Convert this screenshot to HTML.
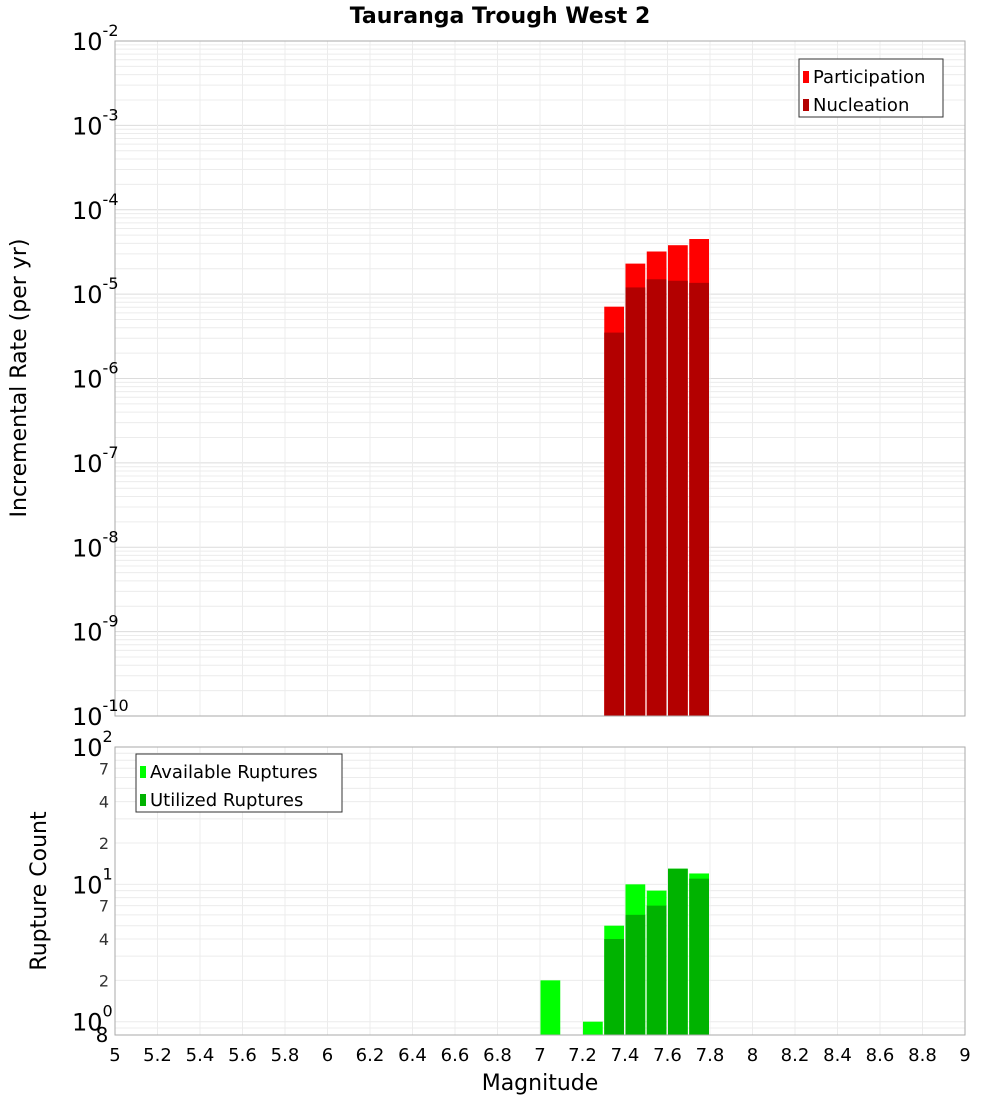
<!DOCTYPE html>
<html><head><meta charset="utf-8"><style>
body{margin:0;background:#fff;}
svg{display:block;font-family:"DejaVu Sans","Liberation Sans",sans-serif;}
</style></head><body>
<svg id="c" width="1000" height="1100"></svg>
<script>
const mags = [7.35, 7.45, 7.55, 7.65, 7.75];
const participation = [7.1e-6, 2.3e-5, 3.2e-5, 3.8e-5, 4.5e-5];
const nucleation = [3.5e-6, 1.2e-5, 1.5e-5, 1.44e-5, 1.36e-5];
const countMags = [7.05, 7.25, 7.35, 7.45, 7.55, 7.65, 7.75];
const available = [2, 1, 5, 10, 9, 13, 12];
const utilized = [0, 0, 4, 6, 7, 13, 11];
const xTicks = ["5","5.2","5.4","5.6","5.8","6","6.2","6.4","6.6","6.8","7","7.2","7.4","7.6","7.8","8","8.2","8.4","8.6","8.8","9"];
const topExps = [-2,-3,-4,-5,-6,-7,-8,-9,-10];

const NS="http://www.w3.org/2000/svg";
const svg=document.getElementById('c');
function mk(t,a,txt){const e=document.createElementNS(NS,t);for(const k in a)e.setAttribute(k,a[k]);if(txt!==undefined)e.textContent=txt;svg.appendChild(e);return e;}
const L=115,R=965;
const T1=41,B1=716,T2=747,B2=1035;
const xs=m=>L+(m-5)/4*(R-L);
const y1=v=>T1+(-2-Math.log10(v))/8*(B1-T1);
const y2min=Math.log10(0.8),y2max=2;
const y2=v=>B2-(Math.log10(Math.max(v,0.8))-y2min)/(y2max-y2min)*(B2-T2);

// grids
for(let d=-10;d<-2;d++)for(let k=1;k<10;k++){const y=y1(k*Math.pow(10,d));
const g=mk('line',{x1:L,x2:R,y1:y,y2:y,stroke:k==1?'#dcdcdc':'#ececec','stroke-width':1});
}
for(let d=-1;d<2;d++)for(let k=1;k<10;k++){const v=k*Math.pow(10,d);if(v<0.8)continue;const y=y2(v);
const g=mk('line',{x1:L,x2:R,y1:y,y2:y,stroke:'#ececec','stroke-width':1});
}
xTicks.forEach(t=>{const x=xs(+t);
for(const [a,b] of [[T1,B1],[T2,B2]]){const g=mk('line',{x1:x,x2:x,y1:a,y2:b,stroke:'#ececec','stroke-width':1});
}});

// bars top
const bw=(R-L)/40;
mags.forEach((m,i)=>{
const p=mk('rect',{x:xs(m)-bw/2+0.5,y:y1(participation[i]),width:bw-1.5,height:B1-y1(participation[i]),fill:'#ff0000'});

const n=mk('rect',{x:xs(m)-bw/2+0.5,y:y1(nucleation[i]),width:bw-1.5,height:B1-y1(nucleation[i]),fill:'#b30000'});
});
countMags.forEach((m,i)=>{
if(available[i]>0){const a=mk('rect',{x:xs(m)-bw/2+0.5,y:y2(available[i]),width:bw-1.5,height:B2-y2(available[i]),fill:'#00ff00'});
}
if(utilized[i]>0){const u=mk('rect',{x:xs(m)-bw/2+0.5,y:y2(utilized[i]),width:bw-1.5,height:B2-y2(utilized[i]),fill:'#00b300'});
}});

// frames
let f=mk('rect',{x:L,y:T1,width:R-L,height:B1-T1,fill:'none',stroke:'#aaa'});
f=mk('rect',{x:L,y:T2,width:R-L,height:B2-T2,fill:'none',stroke:'#aaa'});

// top y labels
topExps.forEach(e=>{const y=y1(Math.pow(10,e));
const t=mk('text',{x:72,y:y+9,'font-size':24,fill:'#000'});t.innerHTML='10<tspan font-size="16" dy="-14">'+e+'</tspan>';
});
// bottom y labels
[[100,'2'],[10,'1'],[1,'0']].forEach(([v,e])=>{const y=y2(v);
const t=mk('text',{x:72,y:y+9,'font-size':24,fill:'#000'});t.innerHTML='10<tspan font-size="16" dy="-14">'+e+'</tspan>';
});
[70,40,20,7,4,2].forEach(v=>{const t=mk('text',{x:104,y:y2(v)+6,'font-size':16,'text-anchor':'middle',fill:'#333'},String(v).charAt(0));
});
let t8=mk('text',{x:102,y:1042,'font-size':20,'text-anchor':'middle'},'8');

// x tick labels
xTicks.forEach(t=>{const e=mk('text',{x:xs(+t),y:1061,'font-size':18,'text-anchor':'middle'},t);
});

let e;
e=mk('text',{x:500,y:23,'font-size':22,'font-weight':'bold','text-anchor':'middle'},'Tauranga Trough West 2');
e=mk('text',{x:540,y:1090,'font-size':22,'text-anchor':'middle'},'Magnitude');
e=mk('text',{x:26,y:378,'font-size':22,'text-anchor':'middle',transform:'rotate(-90 26 378)'},'Incremental Rate (per yr)');
e=mk('text',{x:46,y:891,'font-size':22,'text-anchor':'middle',transform:'rotate(-90 46 891)'},'Rupture Count');

// legends
function legend(x,y,w,items,name){
const g=mk('rect',{x:x,y:y,width:w,height:58,fill:'#fff',stroke:'#333'});
items.forEach(([c,l],i)=>{const r=mk('rect',{x:x+4,y:y+12+i*28,width:6,height:12,fill:c});
const tx=mk('text',{x:x+14,y:y+24+i*28,'font-size':18},l);});}
legend(799,59,144,[['#ff0000','Participation'],['#b30000','Nucleation']],'top-legend');
legend(136,754,206,[['#00ff00','Available Ruptures'],['#00b300','Utilized Ruptures']],'bottom-legend');
</script>
</body></html>
